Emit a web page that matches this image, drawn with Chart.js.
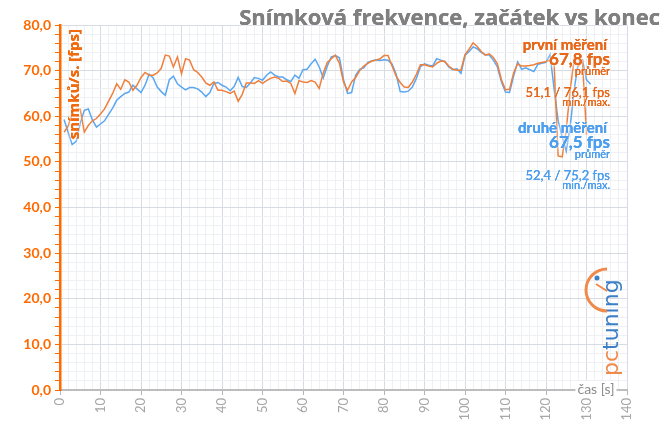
<!DOCTYPE html>
<html>
<head>
<meta charset="utf-8">
<script src="https://cdn.jsdelivr.net/npm/chart.js@4/dist/chart.umd.min.js"></script>
<style>
  html, body { margin: 0; padding: 0; background: #fff; }
  #wrap { width: 664px; height: 424px; }
</style>
</head>
<body>
<div id="wrap"><canvas id="myChart" width="664" height="424"></canvas></div>
<script>
// time axis (seconds), one sample per second starting at 1 s
const seconds = [];
for (let s = 1; s <= 131; s++) seconds.push(s);

// first run (orange), fps per second
const firstRun = [
  56.5, 57.8, 60.5, 61.7, 61.5, 56.5, 58.0, 59.0, 59.5, 60.5,
  61.6, 63.3, 65.0, 67.1, 65.9, 68.0, 67.5, 65.7, 66.8, 68.5,
  69.6, 69.0, 69.0, 69.5, 70.5, 73.4, 73.2, 70.8, 73.0, 69.3,
  72.6, 72.3, 70.2, 69.6, 68.6, 67.3, 66.8, 67.5, 65.7, 65.7,
  65.4, 65.0, 65.5, 63.3, 64.8, 67.3, 67.3, 67.2, 67.8, 67.2,
  67.8, 68.3, 68.6, 68.3, 67.6, 67.7, 67.2, 65.0, 67.8, 67.5,
  67.4, 67.8, 67.5, 66.1, 69.5, 71.8, 72.6, 73.4, 71.6, 67.5,
  65.7, 67.5, 68.5, 70.0, 71.0, 71.6, 72.1, 72.3, 72.6, 73.3,
  73.3, 71.0, 68.8, 67.4, 66.4, 66.3, 67.5, 69.2, 71.3, 71.3,
  71.0, 70.8, 71.6, 72.1, 72.0, 71.0, 70.3, 70.1, 70.1, 73.5,
  74.7, 76.1, 75.3, 74.2, 73.4, 73.7, 72.9, 71.5, 68.0, 65.8,
  65.9, 69.5, 71.5, 71.0, 71.0, 71.1, 71.3, 71.6, 71.8, 72.0,
  72.3, 71.5, 51.3, 51.1, 57.0, 66.0, 72.7, 71.0, 72.2, 56.0
];

// second run (blue), fps per second
const secondRun = [
  59.3, 56.5, 53.8, 54.5, 58.5, 61.3, 61.6, 59.2, 57.6, 58.3,
  59.0, 60.4, 61.8, 63.5, 64.3, 65.0, 65.3, 66.8, 66.0, 65.2,
  66.8, 69.2, 68.4, 66.4, 65.4, 64.6, 68.0, 68.8, 67.1, 66.4,
  65.8, 66.3, 66.3, 66.0, 65.3, 64.3, 65.2, 67.2, 67.4, 66.8,
  66.4, 65.6, 66.5, 68.5, 66.5, 66.3, 67.3, 68.5, 68.3, 67.9,
  69.0, 69.7, 69.0, 68.6, 68.6, 68.0, 67.6, 69.0, 68.3, 70.2,
  70.3, 71.5, 72.5, 70.8, 68.4, 71.0, 73.0, 73.3, 72.8, 68.0,
  65.0, 65.2, 69.0, 70.3, 70.6, 71.8, 72.1, 72.4, 72.2, 72.4,
  72.3, 71.4, 69.2, 65.4, 65.3, 65.5, 66.4, 68.3, 70.9, 71.5,
  71.2, 71.0, 72.6, 72.3, 72.0, 70.8, 70.2, 70.4, 69.4, 73.3,
  74.2, 75.2, 74.8, 74.0, 73.5, 73.4, 72.3, 70.8, 67.5, 65.3,
  65.2, 68.8, 71.9, 70.3, 70.6, 70.2, 69.8, 71.4, 71.6, 71.8,
  73.5, 66.0, 59.0, 55.5, 52.4, 58.0, 66.0, 72.0, 72.4, 68.0, 67.0
];

const chartTitle = 'Snímková frekvence, začátek vs konec';
const yTitle = 'snímků/s. [fps]';
const xTitle = 'čas [s]';
const summary = [
  { name: 'první měření', avg: '67,8 fps', minmax: '51,1 / 76,1 fps', color: '#E8681A' },
  { name: 'druhé měření', avg: '67,5 fps', minmax: '52,4 / 75,2 fps', color: '#4D9EEE' }
];

const ORANGE = '#F07F3C';
const BLUE = '#5AA7F2';
const MAJOR = '#d6dbe4';
const MINOR = '#eef0f4';

function toPoints(vals) {
  return vals.map((v, i) => ({ x: seconds[i], y: v }));
}

function haloText(ctx, text, x, y) {
  ctx.save();
  ctx.shadowColor = 'rgba(255,255,255,1)';
  ctx.shadowBlur = 4;
  ctx.fillText(text, x, y);
  ctx.fillText(text, x, y);
  ctx.restore();
  ctx.fillText(text, x, y);
}

const decorPlugin = {
  id: 'decor',
  beforeDatasetsDraw(chart) {
    const ctx = chart.ctx;
    // logo
    ctx.save();
    ctx.translate(612, 318);
    ctx.rotate(-Math.PI / 2);
    ctx.font = '22px "DejaVu Sans"';
    ctx.textBaseline = 'middle';
    ctx.textAlign = 'left';
    ctx.fillStyle = '#F08A4B';
    ctx.fillText('pc', -58, 0);
    const w = ctx.measureText('pc').width;
    ctx.fillStyle = '#3C7FC4';
    ctx.fillText('tuning', -58 + w, 0);
    ctx.restore();
    ctx.save();
    ctx.strokeStyle = '#F08A4B';
    ctx.lineWidth = 3;
    ctx.beginPath();
    ctx.arc(607, 290, 21, Math.PI * 0.5, Math.PI * 1.5);
    ctx.stroke();
    ctx.lineWidth = 2;
    ctx.beginPath();
    ctx.moveTo(596, 284);
    ctx.lineTo(607, 291);
    ctx.stroke();
    ctx.fillStyle = '#3C7FC4';
    ctx.beginPath();
    ctx.arc(597, 278, 2.5, 0, Math.PI * 2);
    ctx.fill();
    ctx.restore();
    // soft shadow under the lines
    ctx.save();
    ctx.shadowColor = 'rgba(0,0,0,0.18)';
    ctx.shadowBlur = 3;
    ctx.shadowOffsetY = 2;
    chart._shadowCtx = true;
    ctx.restore();
  },
  afterDatasetsDraw(chart) {
    const ctx = chart.ctx;
    ctx.save();
    // title
    ctx.font = 'bold 22px "Open Sans"';
    ctx.fillStyle = '#7f7f7f';
    ctx.textAlign = 'right';
    ctx.textBaseline = 'middle';
    haloText(ctx, chartTitle, 660, 19);

    // y axis title
    ctx.save();
    ctx.translate(75, 29);
    ctx.rotate(-Math.PI / 2);
    ctx.font = 'bold 15px "Open Sans"';
    ctx.fillStyle = '#F06A10';
    ctx.textAlign = 'right';
    haloText(ctx, yTitle, 0, 0);
    ctx.restore();

    // x axis title
    ctx.font = '14px Lato';
    ctx.textAlign = 'center';
    const tw = ctx.measureText(xTitle).width;
    ctx.fillStyle = '#fff';
    ctx.fillRect(596 - tw / 2 - 2, 381, tw + 4, 16);
    ctx.fillStyle = '#8c8c8c';
    ctx.fillText(xTitle, 596, 389);

    // run summaries
    ctx.textAlign = 'right';
    const rows = [45, 128];
    summary.forEach((s, i) => {
      const y0 = rows[i];
      ctx.fillStyle = s.color;
      ctx.font = 'bold 15px Lato';
      haloText(ctx, s.name, 607, y0);
      ctx.font = 'bold 17px Lato';
      haloText(ctx, s.avg, 610, y0 + 15);
      ctx.font = '11px Lato';
      haloText(ctx, 'průměr', 610, y0 + 26);
      ctx.font = '13px Lato';
      haloText(ctx, s.minmax, 610, y0 + 48);
      ctx.font = '11px Lato';
      haloText(ctx, 'min./max.', 610, y0 + 57);
    });
    ctx.restore();
  }
};

new Chart(document.getElementById('myChart').getContext('2d'), {
  type: 'line',
  data: {
    datasets: [
      { label: 'první měření', data: toPoints(firstRun), borderColor: ORANGE, borderWidth: 1.5, pointRadius: 0, tension: 0 },
      { label: 'druhé měření', data: toPoints(secondRun), borderColor: BLUE, borderWidth: 1.5, pointRadius: 0, tension: 0 }
    ]
  },
  options: {
    responsive: false,
    animation: false,
    layout: { padding: { top: 25, right: 37, left: 0, bottom: 0 } },
    plugins: { legend: { display: false }, tooltip: { enabled: false } },
    scales: {
      x: {
        type: 'linear', min: 0, max: 140,
        afterFit(scale) { scale.height = 34; },
        ticks: {
          stepSize: 2, autoSkip: false, minRotation: 90, maxRotation: 90,
          color: '#a6a6a6', font: { family: 'Lato', size: 13 }, padding: 3,
          callback: v => (v % 10 === 0 ? String(v) : '')
        },
        grid: {
          color: c => (c.tick && c.tick.value % 10 === 0 ? MAJOR : MINOR),
          tickColor: c => (c.tick && c.tick.value % 10 === 0 ? '#b5b5b5' : 'rgba(0,0,0,0)'),
          tickLength: 5
        },
        border: { color: '#bdbdbd', width: 2 }
      },
      y: {
        min: 0, max: 80,
        afterFit(scale) { scale.width = 60; },
        ticks: {
          stepSize: 2, autoSkip: false, color: '#FF6A00',
          font: { family: 'Lato', size: 14, weight: 'bold' }, padding: 4,
          callback: v => (v % 10 === 0 ? v.toFixed(1).replace('.', ',') : '')
        },
        grid: {
          color: c => (c.tick && c.tick.value % 10 === 0 ? MAJOR : MINOR),
          tickColor: '#FF6A00',
          tickLength: 5
        },
        border: { color: '#FF6A00', width: 2.5 }
      }
    }
  },
  plugins: [decorPlugin]
});
</script>
</body>
</html>
